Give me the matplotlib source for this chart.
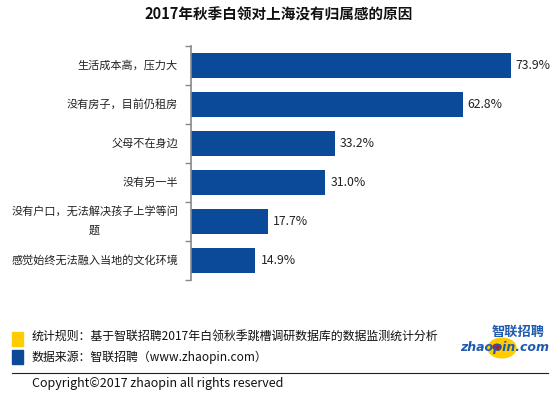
import matplotlib
matplotlib.use("Agg")
import matplotlib.pyplot as plt
from matplotlib.patches import Rectangle, Circle

plt.rcParams['font.family'] = ['Noto Sans CJK SC', 'DejaVu Sans']

# data
reasons = ['生活成本高，压力大', '没有房子，目前仍租房', '父母不在身边', '没有另一半',
           '没有户口，无法解决孩子上学等问\n题', '感觉始终无法融入当地的文化环境']
values = [73.9, 62.8, 33.2, 31.0, 17.7, 14.9]

blue = '#0B4A99'
yellow = '#FFCC00'

W, H = 558, 393
fig = plt.figure(figsize=(W / 100, H / 100), dpi=100)

ax = fig.add_axes([191 / W, 1 - 280 / H, 346 / W, 234 / H])
ypos = list(range(len(reasons)))
ax.barh(ypos, values, height=0.62, color=blue)
ax.set_ylim(len(reasons) - 0.5, -0.5)
ax.set_xlim(0, 80)
for y, v in zip(ypos, values):
    ax.text(v + 1.2, y, '%.1f%%' % v, va='center', ha='left', fontsize=8.8, color='#222222')

for s in ['top', 'right', 'bottom']:
    ax.spines[s].set_visible(False)
ax.spines['left'].set_color('#888888')
ax.spines['left'].set_linewidth(1.2)
ax.set_xticks([])
ax.set_yticks([])
ax.set_yticks([i - 0.5 for i in range(len(reasons) + 1)], minor=True)
ax.tick_params(axis='y', which='minor', length=4, color='#888888', width=1)
for y, lab in zip(ypos, reasons):
    ax.text(-13 / 4.33, y, lab, ha='right', va='center', fontsize=8,
            multialignment='center', color='#222222', linespacing=1.9)

fig.text(0.5, 1 - 15 / H, '2017年秋季白领对上海没有归属感的原因', ha='center', va='center',
         fontsize=10.5, fontweight='bold', color='#111111')

# footer
fig.patches.append(Rectangle((12 / W, 1 - 346 / H), 11 / W, 14 / H, transform=fig.transFigure,
                             color=yellow))
fig.patches.append(Rectangle((12 / W, 1 - 364 / H), 11 / W, 14 / H, transform=fig.transFigure,
                             color=blue))
fig.text(32 / W, 1 - 337 / H, '统计规则：基于智联招聘2017年白领秋季跳槽调研数据库的数据监测统计分析',
         ha='left', va='center', fontsize=8.6, color='#111111')
fig.text(32 / W, 1 - 357 / H, '数据来源：智联招聘（www.zhaopin.com）',
         ha='left', va='center', fontsize=8.6, color='#111111')
fig.lines.append(plt.Line2D([12 / W, 548 / W], [1 - 373 / H, 1 - 373 / H],
                            transform=fig.transFigure, color='#222222', lw=0.8))
fig.text(32 / W, 1 - 383 / H, 'Copyright©2017 zhaopin all rights reserved',
         ha='left', va='center', fontsize=9, color='#111111')

# logo
fig.patches.append(Circle((502 / W, 1 - 348 / H), 14 / W, transform=fig.transFigure,
                          color=yellow))
fig.patches.append(Circle((497 / W, 1 - 347 / H), 4 / W, transform=fig.transFigure,
                          color='#CC1111'))
fig.text(518 / W, 1 - 332 / H, '智联招聘', ha='center', va='center', fontsize=9.5,
         fontweight='bold', style='italic', color='#1E5AAE')
fig.text(505 / W, 1 - 348 / H, 'zhaopin.com', ha='center', va='center', fontsize=9,
         fontweight='bold', style='italic', color='#1E5AAE', family='DejaVu Sans')

fig.savefig('out.png', dpi=100)
